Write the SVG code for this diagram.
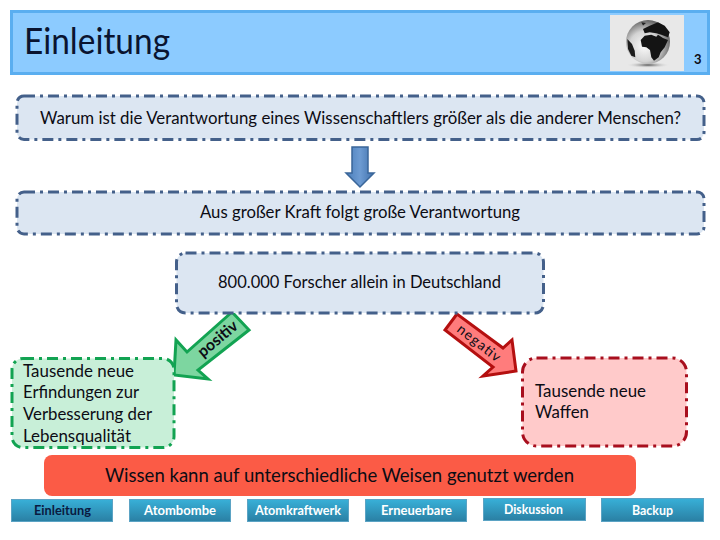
<svg xmlns="http://www.w3.org/2000/svg" width="720" height="540" viewBox="0 0 720 540">
<style>
text{font-family:"Lato","Liberation Sans",sans-serif;fill:#0c0c14}
.b{fill:#dce6f2;stroke:#44608a;stroke-width:3;stroke-dasharray:11 5 3 5}
.g{fill:#c8efd8;stroke:#12a352;stroke-width:3;stroke-dasharray:11 5 3 5}
.r{fill:#ffcaca;stroke:#a80f1e;stroke-width:3;stroke-dasharray:11 5 3 5}
.t{font-size:16.5px}
.n{fill:url(#nav);stroke:#5ba3c4;stroke-width:1}
.nt{font-size:13px;font-weight:700;fill:#fff}
</style>
<defs>
<linearGradient id="nav" x1="0" y1="0" x2="0" y2="1"><stop offset="0" stop-color="#38b0d8"/><stop offset="1" stop-color="#2a7fa3"/></linearGradient>
<linearGradient id="blue" x1="0" y1="0" x2="1" y2="0"><stop offset="0" stop-color="#4a7ebb"/><stop offset=".5" stop-color="#6d9bd2"/><stop offset="1" stop-color="#3f70ab"/></linearGradient>
<radialGradient id="sph" cx=".42" cy=".6" r=".62"><stop offset="0" stop-color="#fafafa"/><stop offset=".55" stop-color="#d4d4d4"/><stop offset="1" stop-color="#5c5c5c"/></radialGradient>
<radialGradient id="shd"><stop offset="0" stop-color="#555"/><stop offset="1" stop-color="#e8e8e8" stop-opacity="0"/></radialGradient>
</defs>
<g id="header">
<rect x="11.500" y="11.500" width="697" height="62" fill="#8ccbff" stroke="#5aaef0" stroke-width="3"/>
<text x="24" y="54" font-size="36" style="fill:#0a1430" textLength="146" lengthAdjust="spacingAndGlyphs">Einleitung</text>
<text x="694" y="64" font-size="13" font-weight="700">3</text>
</g>
<g id="globe">
<rect x="610" y="15" width="74" height="56" fill="#e8e8e8"/>
<ellipse cx="648" cy="65" rx="22" ry="3" fill="url(#shd)"/>
<circle cx="648" cy="42" r="22" fill="url(#sph)"/>
<path d="M640.700 40L644.700 35.700 651.300 34.700 656.300 36.700 658 34.700 663 38 668 40 664.700 47.300 660.700 52.300 658.700 57.300 654 60.700 651.300 57.300 650 50 646.300 47.300 642 46.700z" fill="#141414"/>
<path d="M643 29L649.700 25.700 658 22.300 664.700 25.700 669.700 32.300 668 37.300 661.300 34.700 656.300 33.300 649.700 32.300 644.700 33.300z" fill="#141414"/>
<path d="M627.300 39L632 44 634.700 50.700 635.300 57.300 631.300 55.700 628 49z" fill="#1c1c1c"/>
<path d="M641.300 22.300L646 23 643 25.500z" fill="#222"/>
</g>
<g id="connectors">
<path d="M352 147h16v26h6l-14 14-14-14h6z" fill="url(#blue)" stroke="#3a6699" stroke-width="1.500"/>
<path d="M232 312l17 18-51 40 10 9-34-4 2-35 11 12z" fill="#7dd6a0" stroke="#12a352" stroke-width="3"/>
<path d="M457 314l-12 16 48 37-10 9 33-5-4-31-9 8z" fill="#ff7c7c" stroke="#b40f0f" stroke-width="3"/>
<text transform="translate(203 358) rotate(-40)" font-size="16" font-weight="700" textLength="47" lengthAdjust="spacingAndGlyphs">positiv</text>
<text transform="translate(456 331) rotate(38)" font-size="14" textLength="51" lengthAdjust="spacing">negativ</text>
</g>
<g id="frage">
<rect class="b" x="17" y="96" width="687" height="43.500" rx="7"/>
<text class="t" x="40" y="124" textLength="641" lengthAdjust="spacingAndGlyphs">Warum ist die Verantwortung eines Wissenschaftlers größer als die anderer Menschen?</text>
</g>
<g id="kraft">
<rect class="b" x="17" y="192" width="687" height="42" rx="7"/>
<text class="t" x="200" y="218" textLength="320" lengthAdjust="spacingAndGlyphs">Aus großer Kraft folgt große Verantwortung</text>
</g>
<g id="forscher">
<rect class="b" x="176.500" y="253" width="367" height="60" rx="9"/>
<text class="t" x="218" y="288" textLength="283" lengthAdjust="spacingAndGlyphs">800.000 Forscher allein in Deutschland</text>
</g>
<g id="erfindungen">
<rect class="g" x="12" y="358.500" width="162" height="89" rx="11"/>
<text class="t" x="23" y="377" textLength="111" lengthAdjust="spacingAndGlyphs">Tausende neue</text>
<text class="t" x="23" y="398" textLength="116" lengthAdjust="spacingAndGlyphs">Erfindungen zur</text>
<text class="t" x="23" y="420" textLength="129" lengthAdjust="spacingAndGlyphs">Verbesserung der</text>
<text class="t" x="23" y="442" textLength="108" lengthAdjust="spacingAndGlyphs">Lebensqualität</text>
</g>
<g id="waffen">
<rect class="r" x="522.500" y="358" width="164" height="88" rx="14"/>
<text class="t" x="535" y="397" textLength="111" lengthAdjust="spacingAndGlyphs">Tausende neue</text>
<text class="t" x="535" y="418" textLength="54" lengthAdjust="spacingAndGlyphs">Waffen</text>
</g>
<g id="wissen">
<rect x="44" y="455" width="592" height="41" rx="8" fill="#fb5b46"/>
<text x="105" y="482" font-size="20" textLength="469" lengthAdjust="spacingAndGlyphs">Wissen kann auf unterschiedliche Weisen genutzt werden</text>
</g>
<g id="nav-einleitung"><rect class="n" x="11.500" y="499.500" width="101" height="22"/><text class="nt" style="fill:#0a1a40" x="34" y="515" textLength="57" lengthAdjust="spacingAndGlyphs">Einleitung</text></g>
<g id="nav-atombombe"><rect class="n" x="129.500" y="499.500" width="101" height="22"/><text class="nt" x="144" y="515" textLength="72" lengthAdjust="spacingAndGlyphs">Atombombe</text></g>
<g id="nav-atomkraftwerk"><rect class="n" x="247.500" y="499.500" width="101" height="22"/><text class="nt" x="255" y="515" textLength="86" lengthAdjust="spacingAndGlyphs">Atomkraftwerk</text></g>
<g id="nav-erneuerbare"><rect class="n" x="365.500" y="499.500" width="101" height="22"/><text class="nt" x="381" y="515" textLength="71" lengthAdjust="spacingAndGlyphs">Erneuerbare</text></g>
<g id="nav-diskussion"><rect class="n" x="483.500" y="498.500" width="102" height="22"/><text class="nt" x="504" y="514" textLength="59" lengthAdjust="spacingAndGlyphs">Diskussion</text></g>
<g id="nav-backup"><rect class="n" x="601.500" y="498.500" width="102" height="23"/><text class="nt" x="632" y="515" textLength="41" lengthAdjust="spacingAndGlyphs">Backup</text></g>
</svg>
